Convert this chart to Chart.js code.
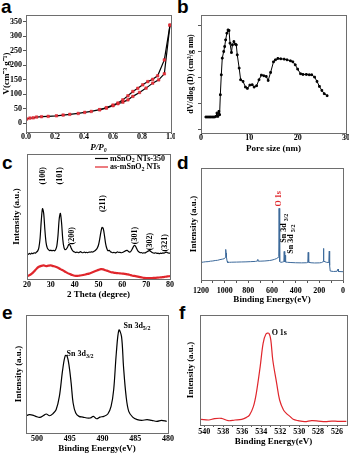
<!DOCTYPE html>
<html>
<head>
<meta charset="utf-8">
<script src="https://cdn.jsdelivr.net/npm/chart.js@4.4.1/dist/chart.umd.min.js"></script>
<style>
  body { margin: 0; background: #fff; width: 349px; height: 457px; position: relative; overflow: hidden; }
  canvas { position: absolute; }
  .tag { position: absolute; font: bold 19px "Liberation Sans", Arial, sans-serif; line-height: 1; color: #000; }
</style>
</head>
<body>
<div class="tag" style="left:1px;top:-3px">a</div>
<div class="tag" style="left:177px;top:-3px">b</div>
<div class="tag" style="left:2px;top:153px">c</div>
<div class="tag" style="left:177px;top:153px">d</div>
<div class="tag" style="left:2px;top:303px">e</div>
<div class="tag" style="left:179px;top:303px">f</div>

<canvas id="chartA" width="175" height="153" style="left:0;top:0"></canvas>
<canvas id="chartB" width="174" height="154" style="left:175px;top:0"></canvas>
<canvas id="chartC" width="175" height="150" style="left:0;top:150px"></canvas>
<canvas id="chartD" width="174" height="155" style="left:175px;top:150px"></canvas>
<canvas id="chartE" width="175" height="154" style="left:0;top:300px"></canvas>
<canvas id="chartF" width="174" height="147" style="left:175px;top:300px"></canvas>

<script>
// a - N2 sorption isotherm
const adsP = [0.005, 0.027, 0.05, 0.073, 0.107, 0.153, 0.21, 0.256, 0.302, 0.36, 0.405, 0.45, 0.508, 0.554, 0.6, 0.634, 0.668, 0.703, 0.737, 0.783, 0.828, 0.874, 0.915, 0.954, 0.993];
const adsV = [13.8, 17, 18, 20.6, 21.8, 23, 25, 27.5, 30, 33, 36.7, 40, 46, 51.6, 59.7, 66.6, 72, 80, 92, 105.6, 120.5, 137.7, 149, 170, 338];
const desP = [0.993, 0.954, 0.908, 0.874, 0.84, 0.805, 0.771, 0.737, 0.703, 0.668, 0.634, 0.6, 0.554, 0.508];
const desV = [338, 218, 163, 151, 143, 132, 120, 109, 94, 80, 69, 62, 53, 46];
const isoTicksX = [0, 0.2, 0.4, 0.6, 0.8, 1.0];
const isoTicksY = [0, 50, 100, 150, 200, 250, 300, 350];

// b - pore size distribution
const poreSize = [1.0, 1.3, 1.6, 1.9, 2.2, 2.5, 2.8, 3.1, 3.3, 3.5, 3.7, 3.85, 4.0, 4.2, 4.4, 4.7, 4.9, 5.1, 5.35, 5.6, 5.8, 6.0, 6.3, 6.5, 6.8, 7.1, 7.3, 7.5, 7.9, 8.2, 8.7, 9.2, 9.6, 10.1, 10.6, 11.0, 11.5, 12.0, 12.5, 13.0, 13.5, 13.9, 14.4, 15.0, 15.4, 15.9, 16.5, 17.2, 17.8, 18.5, 19.0, 19.5, 20.0, 20.6, 21.1, 21.8, 22.4, 22.9, 23.5, 24.0, 24.5, 25.0, 25.5, 26.1];
const poreDV = [0.487, 0.487, 0.487, 0.487, 0.487, 0.487, 0.487, 0.513, 0.641, 0.513, 0.705, 0.577, 1.346, 2.115, 2.756, 3.013, 3.205, 3.462, 3.718, 3.846, 3.821, 3.333, 2.974, 3.269, 3.397, 3.295, 3.269, 2.885, 2.372, 1.923, 1.859, 1.641, 1.59, 1.718, 1.731, 1.641, 1.692, 1.923, 2.103, 2.077, 2.051, 1.897, 2.205, 2.615, 2.692, 2.744, 2.731, 2.718, 2.692, 2.654, 2.615, 2.5, 2.333, 2.154, 2.128, 2.128, 2.115, 2.115, 2.026, 1.859, 1.667, 1.513, 1.385, 1.308];
const poreTicksX = [0, 10, 20, 30];
const poreTicksY = [0, 1, 2, 3, 4];

// c - XRD patterns
const xrdAngle = [20, 20.5, 21, 21.5, 22, 22.5, 23, 23.5, 24, 24.5, 25, 25.5, 26, 26.5, 27, 27.5, 28, 28.5, 29, 29.5,
  30, 30.5, 31, 31.5, 32, 32.5, 33, 33.5, 34, 34.5, 35, 35.5, 36, 36.5, 37, 37.5, 38, 38.5, 39, 39.5,
  40, 40.5, 41, 41.5, 42, 42.5, 43, 43.5, 44, 44.5, 45, 45.5, 46, 46.5, 47, 47.5, 48, 48.5, 49, 49.5,
  50, 50.5, 51, 51.5, 52, 52.5, 53, 53.5, 54, 54.5, 55, 55.5, 56, 56.5, 57, 57.5, 58, 58.5, 59, 59.5,
  60, 60.5, 61, 61.5, 62, 62.5, 63, 63.5, 64, 64.5, 65, 65.5, 66, 66.5, 67, 67.5, 68, 68.5, 69, 69.5,
  70, 70.5, 71, 71.5, 72, 72.5, 73, 73.5, 74, 74.5, 75, 75.5, 76, 76.5, 77, 77.5, 78, 78.5, 79, 79.5, 80];
const xrd350 = [21.5, 21.0, 21.8, 21.2, 22.0, 21.6, 22.4, 22.0, 23.0, 24.0, 27.0, 35.0, 50.0, 60.0, 56.0, 42.0, 31.0, 26.5, 25.0, 24.2,
  24.6, 24.0, 24.5, 24.0, 25.0, 28.0, 37.0, 51.0, 56.0, 48.0, 34.0, 27.0, 25.0, 25.5, 27.0, 29.4, 29.0, 26.5, 24.5, 23.5,
  23.0, 22.5, 23.0, 22.4, 22.8, 23.4, 22.6, 22.4, 23.0, 22.5, 22.8, 22.4, 23.0, 22.8, 23.2, 23.0, 23.5, 24.0, 25.0, 26.5,
  29.0, 34.0, 40.0, 44.0, 43.0, 37.0, 30.0, 26.0, 24.0, 24.5, 23.2, 22.8, 22.4, 22.8, 22.2, 22.6, 23.2, 22.6, 22.8, 22.4,
  22.6, 23.0, 23.6, 24.2, 24.4, 23.6, 23.0, 23.4, 25.0, 27.0, 28.6, 28.0, 26.0, 24.0, 23.0, 22.4, 22.6, 22.0, 22.4, 22.2,
  22.8, 23.4, 24.0, 24.2, 23.4, 22.6, 22.2, 22.0, 22.4, 21.8, 22.0, 21.6, 22.0, 21.8, 22.2, 22.0, 22.6, 23.0, 22.4, 22.0, 22.0];
const asAngle = [20, 21, 22, 23, 24, 25, 26, 27, 28, 29, 30, 31, 32, 33, 34, 35, 36, 37, 38, 39, 40, 41, 42, 43, 44, 45, 46, 47, 48, 49,
  50, 51, 52, 53, 54, 55, 56, 57, 58, 59, 60, 61, 62, 63, 64, 65, 66, 67, 68, 69, 70, 71, 72, 73, 74, 75, 76, 77, 78, 79, 80];
const xrdAs = [2.5, 3.2, 4.5, 6.5, 8.8, 10.4, 11.2, 11.6, 11.0, 11.4, 11.6, 11.0, 10.4, 9.6, 8.4, 7.4, 6.2, 5.0, 4.2, 3.4,
  2.8, 2.6, 2.9, 3.2, 3.6, 4.2, 4.6, 5.4, 6.2, 7.0, 7.8, 8.4, 8.2, 7.4, 6.8, 6.0, 5.6, 5.2, 5.0, 4.8,
  4.6, 4.4, 4.0, 3.6, 3.0, 2.6, 2.2, 1.8, 1.4, 1.0, 0.8, 0.7, 0.8, 0.9, 1.0, 1.2, 1.4, 1.6, 1.9, 2.2, 2.5];
const xrdTicksX = [20, 30, 40, 50, 60, 70, 80];
const planes = ['(100)', '(101)', '(200)', '(211)', '(301)', '(302)', '(321)'];
const planeAngle = [26.6, 33.8, 39.0, 51.7, 65.2, 71.7, 77.9];
const planeLabelY = [88, 88, 36.9, 64.3, 37.1, 32, 30.9];

// d - XPS survey
const surveyBE = [1200, 1180, 1160, 1140, 1120, 1100, 1080, 1060, 1040, 1020, 1005, 995, 991, 988, 985, 980, 975, 960, 940, 900,
  860, 820, 780, 740, 725, 720, 716, 700, 660, 620, 600, 580, 560, 548, 543, 540, 537, 533, 525, 512,
  500, 497, 494, 491, 488, 485, 470, 440, 400, 350, 310, 298, 294, 290, 270, 240, 200, 180, 168, 165,
  162, 140, 120, 116, 113, 108, 80, 50, 42, 38, 0];
const surveyI = [15.7, 16.0, 16.3, 16.4, 16.8, 17.0, 17.4, 17.6, 18.2, 18.6, 19.0, 20.0, 27.3, 24.0, 20.5, 17.0, 15.6, 15.8, 15.9, 16.0,
  16.1, 16.2, 16.4, 16.6, 17.0, 18.4, 16.8, 16.8, 17.0, 17.4, 17.8, 18.4, 19.2, 20.2, 21.0, 64.0, 20.0, 16.5, 15.8, 16.0,
  16.4, 25.5, 17.0, 16.2, 22.0, 16.0, 15.8, 15.6, 15.4, 15.3, 15.4, 15.6, 24.7, 15.8, 15.4, 15.2, 15.3, 15.6, 16.4, 28.2,
  16.8, 15.8, 15.6, 25.8, 13.0, 8.0, 7.6, 7.8, 9.8, 7.6, 7.4];
const surveyTicksX = [1200, 1100, 1000, 900, 800, 700, 600, 500, 400, 300, 200, 100, 0];

// e - Sn 3d
const sn3dBE = [501.7, 501.2, 500.7, 500.2, 499.6, 499.0, 498.6, 498.1, 497.6, 497.1, 496.6, 496.1, 495.7, 495.4, 495.1, 494.8, 494.5, 494.1, 493.6, 493.0,
  492.4, 491.9, 491.4, 490.9, 490.4, 489.8, 489.2, 488.7, 488.3, 487.9, 487.5, 487.1, 486.8, 486.4, 486.0, 485.4, 484.7, 484.0, 483.2, 482.5,
  481.7, 481.0, 480.2];
const sn3dI = [14.6, 15.5, 15.2, 14.1, 13.2, 14.9, 16.1, 14.6, 16.3, 19.7, 31.0, 53.5, 65.6, 64.8, 56.3, 42.3, 25.4, 16.9, 14.1, 13.5,
  12.7, 12.7, 14.1, 12.1, 13.5, 14.1, 16.1, 22.5, 36.6, 67.6, 87.3, 81.7, 56.3, 31.0, 18.3, 13.5, 11.3, 10.7, 11.3, 10.7,
  9.9, 10.7, 9.9];
const sn3dTicksX = [500, 495, 490, 485, 480];

// f - O 1s
const o1sBE = [540.35, 539.53, 538.92, 538.2, 537.49, 536.77, 536.06, 535.55, 535.24, 534.83, 534.52, 534.11, 533.8, 533.5, 533.19, 532.99, 532.78, 532.37, 532.06, 531.65,
  531.35, 530.94, 530.63, 530.12, 529.41, 528.69, 527.98, 527.26, 526.55, 525.94, 525.02];
const o1sI = [9.3, 8.7, 9.9, 10.1, 8.1, 8.7, 9.3, 11.0, 13.0, 20.3, 31.9, 55.1, 75.4, 83.5, 84.1, 78.3, 60.9, 40.6, 26.1, 17.4,
  14.5, 11.6, 9.3, 8.1, 7.2, 8.1, 7.8, 7.2, 7.8, 7.5, 7.5];
const o1sTicksX = [540, 539, 538, 537, 536, 535, 534, 533, 532, 531, 530, 529, 528, 527, 526];

const SERIF = '"Liberation Serif", "Times New Roman", serif';
const tickFont = { family: SERIF, size: 8, weight: 'bold', lineHeight: 1 };
const titleFont = { family: SERIF, size: 9, weight: 'bold', lineHeight: 1.2 };

const pts = (xs, ys) => xs.map((x, i) => ({ x: x, y: ys[i] }));

// box around the plot area
const framePlugin = {
  id: 'frame',
  afterDraw(chart) {
    const a = chart.chartArea, ctx = chart.ctx;
    ctx.save();
    ctx.strokeStyle = '#6e6e6e';
    ctx.lineWidth = 1;
    ctx.strokeRect(Math.round(a.left) + 0.5, Math.round(a.top) + 0.5, Math.round(a.right - a.left), Math.round(a.bottom - a.top));
    ctx.restore();
  }
};

// text with optional subscript parts, placed in data units
function drawParts(ctx, parts, size, align) {
  const main = 'bold ' + size + 'px ' + SERIF;
  const small = 'bold ' + Math.round(size * 0.72) + 'px ' + SERIF;
  let w = 0;
  parts.forEach(p => { ctx.font = p.sub ? small : main; w += ctx.measureText(p.t).width; });
  let cx = align === 'left' ? 0 : -w / 2;
  ctx.textAlign = 'left';
  ctx.textBaseline = 'middle';
  parts.forEach(p => {
    ctx.font = p.sub ? small : main;
    ctx.fillText(p.t, cx, p.sub ? size * 0.3 : 0);
    cx += ctx.measureText(p.t).width;
  });
}

function notesPlugin(items) {
  return {
    id: 'notes',
    afterDatasetsDraw(chart) {
      const ctx = chart.ctx, xs = chart.scales.x, ys = chart.scales.y;
      items.forEach(n => {
        ctx.save();
        ctx.translate(xs.getPixelForValue(n.x), ys.getPixelForValue(n.y));
        if (n.rot) ctx.rotate(n.rot);
        ctx.fillStyle = n.color || '#000';
        drawParts(ctx, n.parts, n.size || 8, n.align);
        ctx.restore();
      });
    }
  };
}

// legend drawn inside the top right corner (panel c)
function legendPlugin(rows) {
  return {
    id: 'insideLegend',
    afterDatasetsDraw(chart) {
      const a = chart.chartArea, ctx = chart.ctx;
      rows.forEach((r, i) => {
        const y = a.top + 4.5 + i * 8.5;
        ctx.save();
        ctx.strokeStyle = r.color;
        ctx.lineWidth = 1.2;
        ctx.beginPath();
        ctx.moveTo(a.right - 75, y);
        ctx.lineTo(a.right - 62, y);
        ctx.stroke();
        ctx.fillStyle = '#000';
        ctx.translate(a.right - 60, y);
        drawParts(ctx, r.parts, 8, 'left');
        ctx.restore();
      });
    }
  };
}

function xAxis(o) {
  return {
    type: 'linear', min: o.min, max: o.max, reverse: !!o.reverse,
    afterBuildTicks: s => { s.ticks = o.ticks.map(v => ({ value: v })); },
    afterFit: s => { s.height = o.h; },
    border: { display: false },
    grid: { drawOnChartArea: false, drawTicks: true, tickLength: o.tl, color: '#555' },
    ticks: { font: tickFont, color: '#000', padding: o.pad, maxRotation: 0, autoSkip: false, callback: o.fmt },
    title: { display: true, text: o.title, font: Object.assign({}, titleFont, o.titleStyle || {}), color: '#000', padding: 0 }
  };
}

function yAxis(o) {
  return {
    type: 'linear', min: o.min, max: o.max,
    afterBuildTicks: s => { s.ticks = (o.ticks || []).map(v => ({ value: v })); },
    afterFit: s => { s.width = o.w; },
    border: { display: false },
    grid: { drawOnChartArea: false, drawTicks: !!o.ticks, tickLength: o.tl || 3, color: '#555' },
    ticks: { font: tickFont, color: '#000', padding: 1, callback: o.fmt || (() => '') },
    title: { display: true, text: o.title, font: Object.assign({}, titleFont, o.titleSize ? { size: o.titleSize } : {}), color: '#000', padding: { top: o.tp || 0, bottom: 0 } }
  };
}

function panel(id, datasets, scales, pad, extra) {
  new Chart(document.getElementById(id), {
    type: 'line',
    data: { datasets: datasets },
    options: {
      responsive: false,
      animation: false,
      parsing: false,
      layout: { autoPadding: false, padding: { top: pad.top, right: pad.right, left: 0, bottom: 0 } },
      plugins: { legend: { display: false }, tooltip: { enabled: false } },
      scales: scales
    },
    plugins: [framePlugin].concat(extra || [])
  });
}

// a
panel('chartA', [
  { data: pts(desP, desV), borderColor: '#000', borderWidth: 1.2, pointStyle: 'rect', pointRadius: 1.8,
    pointBackgroundColor: '#e8323c', pointBorderColor: '#d0242c', pointBorderWidth: 0.5 },
  { data: pts(adsP, adsV), borderColor: '#000', borderWidth: 1.2, pointStyle: 'rect', pointRadius: 1.8,
    pointBackgroundColor: '#e8323c', pointBorderColor: '#d0242c', pointBorderWidth: 0.5 }
], {
  x: xAxis({ min: 0, max: 1, ticks: isoTicksX, h: 21, tl: 2, pad: -1, fmt: v => v.toFixed(1), title: 'P/P₀', titleStyle: { style: 'italic' } }),
  y: yAxis({ min: -31, max: 373, ticks: isoTicksY, w: 26, tl: 3, fmt: v => v, title: 'V(cm⁻³ g⁻¹)', tp: 1 })
}, { top: 15, right: 3 });

// b
panel('chartB', [
  { data: pts(poreSize, poreDV), borderColor: '#000', borderWidth: 1, pointStyle: 'rect', pointRadius: 1.2,
    pointBackgroundColor: '#000', pointBorderColor: '#000' }
], {
  x: xAxis({ min: 0, max: 30, ticks: poreTicksX, h: 21, tl: 2, pad: -1, title: 'Pore size (nm)' }),
  y: yAxis({ min: -0.13, max: 4.42, ticks: poreTicksY, w: 26, tl: 3, title: 'dV/dlog (D) (cm³/g nm)', titleSize: 8, tp: 11 })
}, { top: 15, right: 2 });

// c
panel('chartC', [
  { data: pts(xrdAngle, xrd350), borderColor: '#000', borderWidth: 1.2, pointRadius: 0, tension: 0.3 },
  { data: pts(asAngle, xrdAs), borderColor: '#e0262c', borderWidth: 2.2, pointRadius: 0, tension: 0.3 }
], {
  x: xAxis({ min: 20, max: 80, ticks: xrdTicksX, h: 21, tl: 1, pad: 1, title: '2 Theta (degree)' }),
  y: yAxis({ min: 0, max: 106.6, w: 27, title: 'Intensity (a.u.)', tp: 11 })
}, { top: 4, right: 3 }, [
  notesPlugin(planes.map((p, i) => ({ x: planeAngle[i], y: planeLabelY[i], rot: -Math.PI / 2, parts: [{ t: p }] }))),
  legendPlugin([
    { color: '#000', parts: [{ t: 'mSnO' }, { t: '2', sub: true }, { t: ' NTs-350' }] },
    { color: '#e0262c', parts: [{ t: 'as-mSnO' }, { t: '2', sub: true }, { t: ' NTs' }] }
  ])
]);

// d
panel('chartD', [
  { data: pts(surveyBE, surveyI), borderColor: '#3d6a9b', borderWidth: 1, pointRadius: 0 }
], {
  x: xAxis({ min: 0, max: 1200, reverse: true, ticks: surveyTicksX, h: 25, tl: 3, pad: 4,
    fmt: v => (v % 200 === 0 ? v : ''), title: 'Binding Energy(eV)' }),
  y: yAxis({ min: 0, max: 100, w: 26, title: 'Intensity (a.u.)', tp: 13 })
}, { top: 18, right: 2 }, [
  notesPlugin([
    { x: 540, y: 72.5, rot: -Math.PI / 2, color: '#e0262c', parts: [{ t: 'O 1s' }] },
    { x: 500, y: 46.3, rot: -Math.PI / 2, parts: [{ t: 'Sn 3d ' }, { t: '3/2', sub: true }] },
    { x: 438, y: 36.5, rot: -Math.PI / 2, parts: [{ t: 'Sn 3d ' }, { t: '5/2', sub: true }] }
  ])
]);

// e
panel('chartE', [
  { data: pts(sn3dBE, sn3dI), borderColor: '#000', borderWidth: 1.2, pointRadius: 0, tension: 0.35 }
], {
  x: xAxis({ min: 480, max: 501.7, reverse: true, ticks: sn3dTicksX, h: 21, tl: 1, pad: 1, title: 'Binding Energy(eV)' }),
  y: yAxis({ min: 0, max: 100, w: 26, title: 'Intensity (a.u.)', tp: 13 })
}, { top: 15, right: 3 }, [
  notesPlugin([
    { x: 495.5, y: 67, align: 'left', parts: [{ t: 'Sn 3d' }, { t: '3/2', sub: true }] },
    { x: 486.8, y: 90.7, align: 'left', parts: [{ t: 'Sn 3d' }, { t: '5/2', sub: true }] }
  ])
]);

// f
panel('chartF', [
  { data: pts(o1sBE, o1sI), borderColor: '#e0262c', borderWidth: 1.2, pointRadius: 0, tension: 0.35 }
], {
  x: xAxis({ min: 524.95, max: 540.46, reverse: true, ticks: o1sTicksX, h: 22, tl: 2, pad: 1,
    fmt: v => (v % 2 === 0 ? v : ''), title: 'Binding Energy(eV)' }),
  y: yAxis({ min: 4.35, max: 100, w: 25, title: 'Intensity (a.u.)', tp: 10 })
}, { top: 15, right: 2 }, [
  notesPlugin([
    { x: 532.9, y: 84, align: 'left', parts: [{ t: 'O 1s' }] }
  ])
]);
</script>
</body>
</html>
